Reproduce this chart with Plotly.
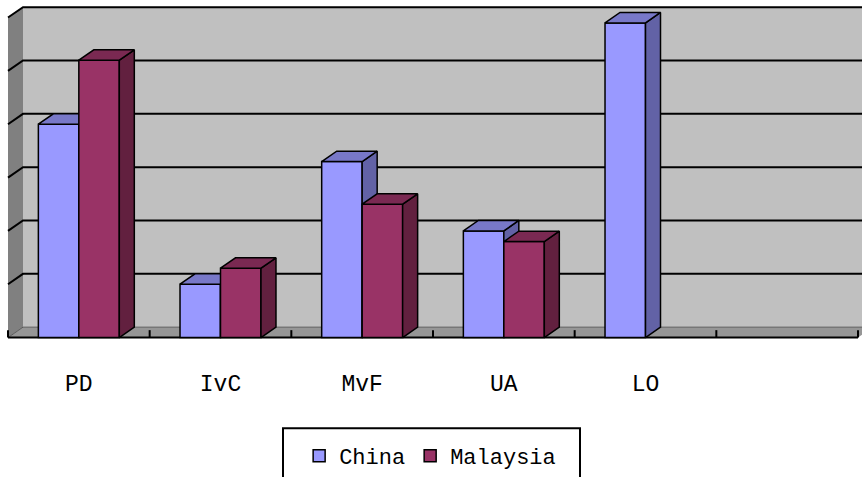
import plotly.graph_objects as go

# ---------------- data ----------------
categories = ["PD", "IvC", "MvF", "UA", "LO", ""]
china = [40, 10, 33, 20, 59, None]
malaysia = [52, 13, 25, 18, None, None]
grid_values = [0, 10, 20, 30, 40, 50, 60]

# ---------------- geometry (pixels -> data) ----------------
W, H = 862, 477
PLOT_BOTTOM = 350          # pixel row of plot-area bottom
FRONT_LEFT_PX = 8          # pixel x of the front-left floor corner
CAT_PX = (858 - 8) / 6     # pixels per category
ZERO_PX = 340.5            # pixel y of value 0 on the front plane
UNIT_PX = 53.8 / 10        # pixels per value unit
DX_PX, DY_PX = 15, 10.5    # 3-D depth offset in pixels

ddx = DX_PX / CAT_PX
ddy = DY_PX / UNIT_PX
bar_w = 1 / 3.5            # gap width 150%
x0, x1 = -0.5, len(categories) - 0.5
ymax = grid_values[-1]

xr = [x0 - FRONT_LEFT_PX / CAT_PX, x0 + (W - FRONT_LEFT_PX) / CAT_PX]
yr = [(ZERO_PX - PLOT_BOTTOM) / UNIT_PX, ZERO_PX / UNIT_PX]

FONT = "Liberation Mono"
fig = go.Figure()


def poly(xs, ys, fill, line_color=None, width=0, xa="x", ya="y"):
    fig.add_trace(go.Scatter(
        x=xs, y=ys, mode="lines", fill="toself", fillcolor=fill,
        line=dict(color=line_color or fill, width=width),
        hoverinfo="skip", showlegend=False, xaxis=xa, yaxis=ya))


def line(xs, ys, color="black", width=2, xa="x", ya="y"):
    fig.add_trace(go.Scatter(
        x=xs, y=ys, mode="lines", line=dict(color=color, width=width),
        hoverinfo="skip", showlegend=False, xaxis=xa, yaxis=ya))


# ---------------- walls (subplot 1) ----------------
poly([x0 + ddx, x1 + ddx, x1 + ddx, x0 + ddx],
     [ddy, ddy, ymax + ddy, ymax + ddy], "#C0C0C0")
poly([x0, x0 + ddx, x0 + ddx, x0], [0, ddy, ymax + ddy, ymax], "#808080")
poly([x0, x1, x1 + ddx, x0 + ddx], [0, 0, ddy, ddy], "#969696")

for g in grid_values[1:]:
    line([x0, x0 + ddx, x1 + ddx], [g, g + ddy, g + ddy], "black", 2)
line([x0 + ddx, x1 + ddx], [ddy, ddy], "#5a5a5a", 1)
line([x0, x0 + ddx], [0, ddy], "#5a5a5a", 1)

# front floor edge with upward ticks
line([x0, x1], [0, 0], "black", 2)
tick_h = 7.5 / UNIT_PX
for k in range(len(categories) + 1):
    line([x0 + k, x0 + k], [0, tick_h], "black", 2)


# ---------------- bars ----------------
def series(name, values, offset, front, top, side, xa, ya):
    xs = list(range(len(categories)))
    fig.add_trace(go.Bar(
        x=xs, y=values, name=name, offset=offset, width=bar_w,
        marker=dict(color=front, line=dict(color="black", width=1.5)),
        xaxis=xa, yaxis=ya))
    tx, ty, sx, sy = [], [], [], []
    for i, v in zip(xs, values):
        if v is None:
            continue
        l = i + offset
        r = l + bar_w
        tx += [l, r, r + ddx, l + ddx, l, None]
        ty += [v, v, v + ddy, v + ddy, v, None]
        sx += [r, r + ddx, r + ddx, r, r, None]
        sy += [0, ddy, v + ddy, v, 0, None]
    poly(sx, sy, side, "black", 1.5, xa, ya)
    poly(tx, ty, top, "black", 1.5, xa, ya)


series("China", china, -bar_w, "#9999FF", "#7878C8", "#6262A6", "x2", "y2")
series("Malaysia", malaysia, 0, "#993366", "#7A2952", "#62203F", "x3", "y3")

# ---------------- layout ----------------
hidden = dict(range=xr, showgrid=False, zeroline=False, showticklabels=False,
              showline=False, fixedrange=True)
hidden_y = dict(range=yr, showgrid=False, zeroline=False, showticklabels=False,
                showline=False, fixedrange=True)

plot_h = PLOT_BOTTOM
LEG_BOX = (283, 432, 580, 490)   # legend frame in pixels (bottom runs off page)
fig.update_layout(
    width=W, height=H,
    margin=dict(l=0, r=0, t=0, b=H - PLOT_BOTTOM),
    paper_bgcolor="white", plot_bgcolor="white",
    barmode="overlay",
    xaxis=dict(range=xr, tickmode="array",
               tickvals=list(range(len(categories))), ticktext=categories,
               tickfont=dict(family=FONT, size=23, color="black"),
               showgrid=False, zeroline=False, showline=False, ticks="",
               ticklabelstandoff=20, fixedrange=True),
    yaxis=hidden_y,
    xaxis2=dict(hidden, overlaying="x"),
    yaxis2=dict(hidden_y, overlaying="y"),
    xaxis3=dict(hidden, overlaying="x"),
    yaxis3=dict(hidden_y, overlaying="y"),
    legend=dict(orientation="h", x=0.499, xanchor="center",
                y=(PLOT_BOTTOM - 439) / plot_h, yanchor="top",
                borderwidth=0, bgcolor="rgba(0,0,0,0)",
                font=dict(family=FONT, size=22, color="black"),
                itemwidth=30, traceorder="normal"),
    shapes=[dict(type="rect", xref="paper", yref="paper",
                 x0=LEG_BOX[0] / W, x1=LEG_BOX[2] / W,
                 y0=(PLOT_BOTTOM - LEG_BOX[1]) / plot_h,
                 y1=(PLOT_BOTTOM - LEG_BOX[3]) / plot_h,
                 line=dict(color="black", width=2), layer="below")],
    showlegend=True,
)

fig.write_html("out.html")
